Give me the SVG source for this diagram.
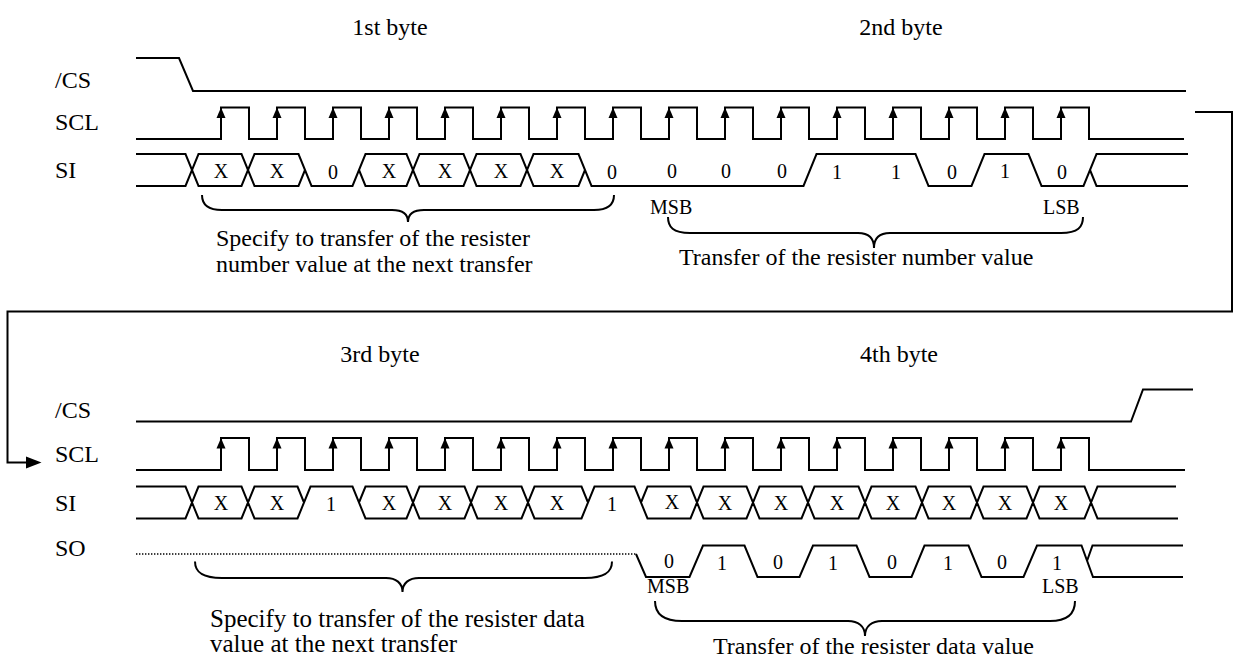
<svg xmlns="http://www.w3.org/2000/svg" xmlns:xlink="http://www.w3.org/1999/xlink" width="1234" height="660" viewBox="0 0 1234 660">
<style>
.w{fill:none;stroke:#000;stroke-width:2;stroke-linejoin:miter}
.dot{fill:none;stroke:#000;stroke-width:1.4;stroke-dasharray:1.4 1.6}
.t{font-family:"Liberation Serif","Times New Roman",serif;fill:#000}
.big{font-size:24px}
.big25{font-size:25px}
.c{font-size:20px;text-anchor:middle}
.sm{font-size:20px}
.mid{text-anchor:middle}
</style>
<defs>
<path id="ah" d="M0,0 L-4.5,10.5 L4.5,10.5 Z" fill="#000"/>
</defs>
<rect width="1234" height="660" fill="#fff"/>

<g id="top-section">
<g id="titles-top" class="t big">
<text x="390" y="35" class="mid">1st byte</text>
<text x="901" y="35" class="mid">2nd byte</text>
</g>
<g id="cs-top">
<text class="t big" x="55" y="88">/CS</text>
<path class="w" d="M136,58 H179 L193,91 H1186"/>
</g>
<g id="scl-top">
<text class="t big" x="55" y="130">SCL</text>
<path class="w" d="M136,139 H221 V107.5 H249 V139 H277 V107.5 H305 V139 H333 V107.5 H361 V139 H389 V107.5 H417 V139 H445 V107.5 H473 V139 H501 V107.5 H529 V139 H557 V107.5 H585 V139 H613 V107.5 H641 V139 H669 V107.5 H697 V139 H725 V107.5 H753 V139 H781 V107.5 H809 V139 H837 V107.5 H865 V139 H893 V107.5 H921 V139 H949 V107.5 H977 V139 H1005 V107.5 H1033 V139 H1061 V107.5 H1089 V139 H1184"/>
<use xlink:href="#ah" x="221" y="107.5"/><use xlink:href="#ah" x="277" y="107.5"/><use xlink:href="#ah" x="333" y="107.5"/><use xlink:href="#ah" x="389" y="107.5"/>
<use xlink:href="#ah" x="445" y="107.5"/><use xlink:href="#ah" x="501" y="107.5"/><use xlink:href="#ah" x="557" y="107.5"/><use xlink:href="#ah" x="613" y="107.5"/>
<use xlink:href="#ah" x="669" y="107.5"/><use xlink:href="#ah" x="725" y="107.5"/><use xlink:href="#ah" x="781" y="107.5"/><use xlink:href="#ah" x="837" y="107.5"/>
<use xlink:href="#ah" x="893" y="107.5"/><use xlink:href="#ah" x="949" y="107.5"/><use xlink:href="#ah" x="1005" y="107.5"/><use xlink:href="#ah" x="1061" y="107.5"/>
</g>
<g id="si-top">
<text class="t big" x="55" y="178">SI</text>
<path class="w" d="M136,154 H185.5 L198.5,186 H241.5 L254.5,154 H298.5 L311.5,186 H352.5 L365.5,154 H406.5 L419.5,186 H463.5 L476.5,154 H520.5 L533.5,186 H578.5 L585,170
M136,186 H185.5 L198.5,154 H241.5 L254.5,186 H298.5 L305,170
M359,170 L365.5,186 H406.5 L419.5,154 H463.5 L476.5,186 H520.5 L533.5,154 H578.5 L591.5,186 H803.5 L816.5,154 H915.5 L928.5,186 H971.5 L984.5,154 H1028.5 L1041.5,186 H1083.5 L1096.5,154 H1188
M1090,170 L1096.5,186 H1188"/>
<g class="t c">
<text x="221" y="178">X</text><text x="277" y="178">X</text><text x="333" y="179">0</text><text x="389" y="178">X</text>
<text x="445" y="178">X</text><text x="501" y="178">X</text><text x="557" y="178">X</text><text x="612" y="179">0</text>
<text x="672" y="178">0</text><text x="726" y="178">0</text><text x="782" y="178">0</text><text x="837" y="179">1</text>
<text x="896" y="179">1</text><text x="952" y="179">0</text><text x="1005" y="178">1</text><text x="1062" y="179">0</text>
</g>
</g>
<g id="notes-top">
<path class="w" d="M202,195 C202,204 207,210 222,210 H392 C402,210 408,214 408,222 C408,214 414,210 424,210 H594 C609,210 614,204 614,195"/>
<path class="w" d="M668,217 C668,227 673,233 690,233 H858 C868,233 874,238 874,248 C874,238 880,233 890,233 H1061 C1078,233 1083,227 1083,217"/>
<g class="t sm">
<text x="650" y="214">MSB</text>
<text x="1043" y="214">LSB</text>
</g>
<g class="t big">
<text x="216" y="246">Specify to transfer of the resister</text>
<text x="216" y="272">number value at the next transfer</text>
<text x="679" y="265">Transfer of the resister number value</text>
</g>
</g>
</g>

<g id="connectors">
<path class="w" d="M1195,112 H1232 V311.5 H7.5 V462.5 H28"/>
<path d="M26,456.5 L41.5,462.5 L26,468.5 Z" fill="#000"/>
</g>

<g id="bottom-section">
<g id="titles-bottom" class="t big">
<text x="380" y="362" class="mid">3rd byte</text>
<text x="899" y="362" class="mid">4th byte</text>
</g>
<g id="cs-bottom">
<text class="t big" x="55" y="418">/CS</text>
<path class="w" d="M136,421.5 H1131 L1143,389.5 H1193"/>
</g>
<g id="scl-bottom">
<text class="t big" x="55" y="462">SCL</text>
<path class="w" d="M136,470 H221 V438 H249 V470 H277 V438 H305 V470 H333 V438 H361 V470 H389 V438 H417 V470 H445 V438 H473 V470 H501 V438 H529 V470 H557 V438 H585 V470 H613 V438 H641 V470 H669 V438 H697 V470 H725 V438 H753 V470 H781 V438 H809 V470 H837 V438 H865 V470 H893 V438 H921 V470 H949 V438 H977 V470 H1005 V438 H1033 V470 H1061 V438 H1089 V470 H1185"/>
<use xlink:href="#ah" x="221" y="438"/><use xlink:href="#ah" x="277" y="438"/><use xlink:href="#ah" x="333" y="438"/><use xlink:href="#ah" x="389" y="438"/>
<use xlink:href="#ah" x="445" y="438"/><use xlink:href="#ah" x="501" y="438"/><use xlink:href="#ah" x="557" y="438"/><use xlink:href="#ah" x="613" y="438"/>
<use xlink:href="#ah" x="669" y="438"/><use xlink:href="#ah" x="725" y="438"/><use xlink:href="#ah" x="781" y="438"/><use xlink:href="#ah" x="837" y="438"/>
<use xlink:href="#ah" x="893" y="438"/><use xlink:href="#ah" x="949" y="438"/><use xlink:href="#ah" x="1005" y="438"/><use xlink:href="#ah" x="1061" y="438"/>
</g>
<g id="si-bottom">
<text class="t big" x="55" y="511">SI</text>
<path class="w" d="M136,486.5 H185.5 L198.5,518.5 H241.5 L254.5,486.5 H297.5 L304,502.5
M136,518.5 H185.5 L198.5,486.5 H241.5 L254.5,518.5 H297.5 L310.5,486.5 H352.5 L365.5,518.5 H406.5 L419.5,486.5 H464.5 L477.5,518.5 H521.5 L534.5,486.5 H581.5 L588,502.5
M359,502.5 L365.5,486.5 H406.5 L419.5,518.5 H464.5 L477.5,486.5 H521.5 L534.5,518.5 H581.5 L594.5,486.5 H634.5 L647.5,518.5 H690.5 L703.5,486.5 H746.5 L759.5,518.5 H801.5 L814.5,486.5 H858.5 L871.5,518.5 H915.5 L928.5,486.5 H970.5 L983.5,518.5 H1026.5 L1039.5,486.5 H1084.5 L1097.5,518.5 H1178
M641,502.5 L647.5,486.5 H690.5 L703.5,518.5 H746.5 L759.5,486.5 H801.5 L814.5,518.5 H858.5 L871.5,486.5 H915.5 L928.5,518.5 H970.5 L983.5,486.5 H1026.5 L1039.5,518.5 H1084.5 L1097.5,486.5 H1176"/>
<g class="t c">
<text x="221" y="510">X</text><text x="277" y="510">X</text><text x="331" y="511">1</text><text x="389" y="510">X</text>
<text x="445" y="510">X</text><text x="501" y="510">X</text><text x="557" y="510">X</text><text x="612" y="511">1</text>
<text x="672" y="509">X</text><text x="725" y="510">X</text><text x="781" y="510">X</text><text x="837" y="510">X</text>
<text x="893" y="510">X</text><text x="949" y="510">X</text><text x="1005" y="510">X</text><text x="1061" y="510">X</text>
</g>
</g>
<g id="so-bottom">
<text class="t big" x="55" y="556">SO</text>
<path class="dot" d="M136,554 H636"/>
<path class="w" d="M636,554 L646,577 H689.5 L703,545.5 H744.5 L757.5,577 H799.5 L813,545.5 H856.5 L869.5,577 H911.5 L924.5,545.5 H968.5 L981.5,577 H1023.5 L1037,545.5 H1081.5 L1093,577 H1183
M1087,561 L1092.5,545.5 H1183"/>
<g class="t c">
<text x="669" y="568">0</text><text x="722" y="570">1</text><text x="778" y="569">0</text><text x="833" y="570">1</text>
<text x="892" y="569">0</text><text x="948" y="570">1</text><text x="1002" y="569">0</text><text x="1057" y="570">1</text>
</g>
</g>
<g id="notes-bottom">
<path class="w" d="M195,561.5 C195,572 202,578 222,578 H386 C396,578 402.5,583 402.5,592 C402.5,583 409,578 419,578 H585 C605,578 612,572 612,561.5"/>
<path class="w" d="M655,601 C655,613 662,621 682,621 H848 C858,621 865,626 865,636 C865,626 872,621 882,621 H1050 C1068,621 1075,613 1075,601"/>
<g class="t sm">
<text x="647" y="593">MSB</text>
<text x="1042" y="593">LSB</text>
</g>
<g class="t big25">
<text x="210" y="627">Specify to transfer of the resister data</text>
<text x="210" y="652">value at the next transfer</text>
</g>
<text class="t big" x="713" y="654">Transfer of the resister data value</text>
</g>
</g>
</svg>
